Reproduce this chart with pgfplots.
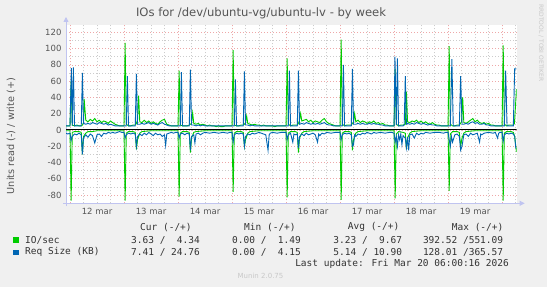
\documentclass[border=0pt]{standalone}
\usepackage{pgfplots}
\pgfplotsset{compat=1.18}
\usepackage{fontspec}
\setmainfont{DejaVu Sans}
\newfontfamily\monof{DejaVu Sans Mono}
\usetikzlibrary{arrows.meta}
\definecolor{bgc}{HTML}{F0F0F0}
\definecolor{gcol}{HTML}{00CC00}
\definecolor{bcol}{HTML}{0066B3}
\definecolor{axc}{HTML}{C0C4F0}
\definecolor{majg}{HTML}{EEA8A8}
\definecolor{ming}{HTML}{CCCCCC}
\definecolor{txt}{HTML}{555555}
\definecolor{ltxt}{HTML}{333333}
\definecolor{faint}{HTML}{C8C8C8}
\begin{document}
\begin{tikzpicture}[x=1pt,y=1pt]
\useasboundingbox (0,0) rectangle (547,287);
\fill[bgc] (0,0) rectangle (547,287);
\begin{axis}[
  at={(66pt,83.7pt)}, anchor=south west,
  scale only axis, width=450.7pt, height=178.3pt,
  xmin=-1.78, xmax=198.5, ymin=-90.2, ymax=129,
  axis background/.style={fill=white},
  axis lines*=left,
  axis line style={draw=axc, line width=0.8pt, -{Triangle[length=5pt,width=5pt]}, shorten >=-8pt, shorten <=-3pt},
  xtick={12,36,60,84,108,132,156,180},
  xticklabels={12 mar,13 mar,14 mar,15 mar,16 mar,17 mar,18 mar,19 mar},
  xmajorgrids=false,
  extra x ticks={0,24,48,72,96,120,144,168,192},
  extra x tick labels={},
  extra x tick style={xmajorgrids=true},
  minor xtick={0,6,...,198},
  xminorgrids=true,
  ytick={-80,-60,...,120},
  minor ytick={-70,-50,...,110},
  ymajorgrids=true, yminorgrids=true,
  major grid style={draw=majg, line width=0.55pt, dash pattern=on 1pt off 2pt},
  minor grid style={draw=ming, line width=0.55pt, dash pattern=on 1pt off 2pt},
  tick style={draw=none},
  /pgf/number format/assume math mode=true,
  ticklabel style={font=\fontsize{8.5}{10}\selectfont, text=txt},
  yticklabel style={xshift=-1pt},
  xticklabel style={yshift=-1pt},
  clip=true,
]
% IO/sec write (+)
\addplot[gcol, line width=0.9pt] coordinates {
(-1.78,5)(-1,5)
(0,5)(0.5,60)(1,6)(2,5)(3,6)(4,5)(5,5)(5.5,6)(6,9)(6.3,38)(7,12)(8,10)(9,13)(10,11)(11,14)(12,10)(13,12)(14,9)(15,11)(16,10)(17,8)(18,11)(19,9)(20,7)(21,6)(22,5)(23,5)
(24,5)(24.5,107)(25,7)(26,5)(27,5)(28,6)(29,6)(29.5,8)(30,12)(30.5,42)(31,10)(32,9)(33,12)(34,9)(35,11)(36,8)(37,10)(38,8)(39,7)(40,10)(41,12)(42,13)(43,7)(44,6)(45,5)(46,5)(47,5)
(48,5)(48.5,73)(49,6)(50,5)(51,5)(52,5)(53,6)(53.5,7)(54,8)(54.5,21)(55,8)(56,7)(57,8)(58,6)(59,7)(60,6)(61,5)(62,6)(63,5)(64,5)(65,4)(66,5)(67,4)(68,4)(69,5)(70,5)(71,5)
(72,5)(72.5,98)(73,6)(74,5)(75,5)(76,6)(77,6)(77.5,7)(78,9)(78.5,17)(79,8)(80,7)(81,6)(82,7)(83,6)(84,6)(85,5)(86,6)(87,5)(88,5)(89,5)(90,5)(91,4)(92,5)(93,5)(94,5)(95,5)
(96,5)(96.5,88)(97,7)(98,5)(99,6)(100,6)(101,6)(101.5,8)(102,12)(102.5,20)(103,11)(104,12)(105,13)(106,10)(107,12)(108,9)(109,11)(110,10)(111,9)(112,12)(113,14)(114,10)(115,8)(116,7)(117,6)(118,5)(119,5)
(120,5)(120.5,111)(121,7)(122,5)(123,6)(124,6)(125,6)(125.5,8)(126,10)(126.5,20)(127,10)(128,12)(129,9)(130,11)(131,10)(132,8)(133,10)(134,9)(135,11)(136,8)(137,9)(138,7)(139,8)(140,6)(141,6)(142,5)(143,5)
(144,5)(144.5,75)(145,7)(146,5)(147,6)(148,6)(149,7)(149.5,47)(150,10)(151,9)(152,11)(153,10)(154,12)(155,9)(156,11)(157,8)(158,10)(159,8)(160,7)(161,9)(162,7)(163,6)(164,6)(165,5)(166,5)(167,5)
(168,5)(168.5,103)(169,7)(170,5)(171,5)(172,6)(173,6)(173.5,8)(174,10)(174.5,40)(175,9)(176,8)(177,10)(178,12)(179,14)(180,10)(181,12)(182,9)(183,8)(184,9)(185,7)(186,8)(187,6)(188,6)(189,5)(190,5)(191,5)
(192,5)(192.5,104)(193,7)(194,5)(195,6)(196,6)(197,6)(197.5,8)(198.4,50)
};
% IO/sec read (-)
\addplot[gcol, line width=0.9pt] coordinates {
(-1.78,-1)(-1,-1)
(0,-1)(0.5,-87)(1,-3)(2,-2)(4,-2)(5,-3)(5.5,-30)(6,-8)(7,-4)(8,-2)(10,-2)(12,-1)(16,-1)(20,-1)(23,-1)
(24,-1)(24.5,-87)(25,-4)(26,-2)(28,-2)(29,-3)(29.5,-24)(30,-12)(31,-4)(32,-2)(36,-1)(40,-1)(44,-1)(47,-1)
(48,-1)(48.5,-82)(49,-4)(50,-2)(52,-2)(53,-3)(53.5,-28)(54,-10)(55,-3)(56,-2)(60,-1)(64,-1)(68,-1)(71,-1)
(72,-1)(72.5,-76)(73,-4)(74,-2)(76,-2)(77,-3)(77.5,-20)(78,-12)(79,-4)(80,-2)(84,-1)(88,-1)(92,-1)(95,-1)
(96,-1)(96.5,-83)(97,-4)(98,-2)(100,-2)(101,-3)(101.5,-28)(102,-10)(103,-4)(104,-2)(108,-1)(112,-1)(116,-1)(119,-1)
(120,-1)(120.5,-86)(121,-4)(122,-2)(124,-2)(125,-3)(125.5,-25)(126,-12)(127,-4)(128,-2)(132,-1)(136,-1)(140,-1)(143,-1)
(144,-1)(144.5,-84)(145,-5)(146,-2)(148,-3)(149,-4)(149.5,-24)(150,-10)(151,-4)(152,-2)(156,-1)(160,-1)(164,-1)(167,-1)
(168,-1)(168.5,-75)(169,-5)(170,-2)(172,-2)(173,-3)(173.6,-20)(174.2,-10)(175,-4)(176,-2)(180,-1)(184,-1)(188,-1)(191,-1)
(192,-1)(192.5,-87)(193,-4)(194,-2)(196,-2)(197,-3)(197.6,-8)(198.4,-27)
};
% Req size read (-)
\addplot[bcol, line width=0.9pt] coordinates {
(-1.78,-4)(-1,-5)
(0,-4)(0.5,-13)(1,-8)(2,-5)(3,-6)(4,-4)(5,-6)(5.5,-30)(6,-10)(7,-6)(8,-9)(9,-5)(10,-7)(11,-16)(12,-6)(13,-5)(14,-8)(15,-4)(16,-5)(17,-3)(18,-4)(19,-3)(20,-4)(21,-3)(22,-2)(23,-3)
(24,-3)(24.5,-10)(25,-6)(26,-4)(27,-5)(28,-4)(29,-5)(29.5,-20)(30,-8)(31,-5)(32,-7)(33,-4)(34,-6)(35,-3)(36,-5)(37,-7)(38,-4)(39,-6)(40,-5)(41,-8)(42,-6)(42.5,-19)(43,-5)(44,-4)(45,-3)(46,-4)(47,-3)
(48,-3)(48.5,-10)(49,-5)(50,-4)(51,-6)(52,-4)(53,-5)(53.5,-25)(54,-8)(55,-6)(55.5,-16)(56,-5)(57,-4)(58,-6)(59,-4)(60,-3)(62,-4)(64,-3)(66,-4)(68,-3)(70,-4)(71,-3)
(72,-3)(72.5,-15)(73,-6)(74,-4)(75,-5)(76,-4)(77,-5)(77.5,-20)(78,-8)(79,-5)(80,-6)(81,-4)(82,-5)(83,-4)(84,-3)(85,-4)(86,-5)(87,-6)(88,-25)(88.5,-6)(89,-4)(90,-3)(92,-4)(94,-3)(95,-3)
(96,-3)(96.5,-12)(97,-6)(98,-4)(99,-15)(99.5,-5)(100,-6)(101,-5)(101.5,-22)(102,-8)(103,-5)(104,-7)(105,-4)(106,-6)(107,-5)(108,-4)(109,-6)(110,-15)(110.5,-5)(111,-7)(112,-4)(113,-5)(114,-3)(116,-4)(118,-3)(119,-3)
(120,-3)(120.5,-12)(121,-6)(122,-4)(123,-5)(124,-4)(125,-6)(125.5,-20)(126,-18)(126.5,-6)(127,-8)(128,-5)(129,-6)(130,-4)(131,-5)(132,-3)(133,-4)(134,-5)(135,-3)(136,-4)(138,-3)(140,-4)(142,-3)(143,-3)
(144,-4)(144.5,-15)(145,-8)(145.5,-20)(146,-6)(146.5,-12)(147,-5)(147.5,-18)(148,-7)(149,-10)(149.5,-22)(150,-9)(150.5,-25)(151,-6)(152,-5)(153,-10)(154,-4)(155,-6)(156,-4)(157,-5)(158,-3)(160,-4)(162,-3)(164,-3)(166,-4)(167,-3)
(168,-3)(168.5,-12)(169,-20)(169.5,-8)(170,-15)(171,-6)(172,-5)(173,-8)(173.6,-25)(174.2,-20)(175,-6)(176,-5)(177,-8)(178,-4)(179,-6)(180,-5)(181,-4)(182,-15)(182.5,-5)(183,-6)(184,-4)(186,-3)(188,-4)(189,-3)(190,-10)(190.5,-4)(191,-3)
(192,-3)(192.5,-14)(193,-6)(194,-4)(195,-5)(196,-4)(197,-5)(197.6,-8)(198.1,-22)(198.4,-22)
};
% Req size write (+)
\addplot[bcol, line width=0.9pt] coordinates {
(-1.78,5)(-1,5)
(0,5)(0.6,76)(1,5)(1.5,77)(2,5)(3,5)(4,5)(5,5)(5.5,70)(6,8)(7,7)(8,8)(9,7)(10,9)(11,8)(12,7)(13,9)(14,8)(15,7)(16,8)(17,6)(18,7)(19,6)(20,5)(21,5)(22,5)(23,5)
(24,5)(25,5)(25.5,66)(26,5)(27,5)(28,5)(29,5)(29.5,69)(30,7)(31,7)(32,8)(33,7)(34,8)(35,9)(36,7)(37,8)(38,7)(39,6)(40,8)(41,9)(42,7)(43,6)(44,5)(45,5)(46,5)(47,5)
(48,5)(49,5)(49.5,71)(50,5)(51,5)(52,5)(53,5)(53.5,74)(54,6)(55,6)(56,5)(57,6)(58,5)(59,6)(60,5)(61,5)(63,5)(65,5)(67,5)(69,5)(71,5)
(72,5)(73,5)(73.5,62)(74,5)(75,5)(76,5)(77,5)(77.5,72)(78,6)(79,6)(80,5)(81,6)(82,5)(83,5)(85,5)(87,5)(89,5)(91,5)(93,5)(95,5)
(96,5)(97,5)(97.5,73)(98,5)(99,5)(100,5)(101,5)(101.5,73)(102,7)(103,8)(104,7)(105,9)(106,8)(107,7)(108,8)(109,7)(110,8)(111,7)(112,8)(113,9)(114,7)(115,6)(116,6)(117,5)(118,5)(119,5)
(120,5)(121,5)(121.5,80)(122,5)(123,5)(124,5)(125,5)(125.5,75)(126,7)(127,7)(128,8)(129,7)(130,8)(131,7)(132,7)(133,8)(134,7)(135,8)(136,7)(137,7)(138,6)(139,6)(140,5)(141,5)(142,5)(143,5)
(144,5)(144.4,90)(145,6)(145.5,88)(146,5)(147,5)(148,5)(148.5,6)(149,66)(149.5,7)(150,8)(151,7)(152,8)(153,7)(154,9)(155,8)(156,7)(157,8)(158,7)(159,6)(160,7)(161,6)(162,6)(163,5)(165,5)(167,5)
(168,5)(169,5)(169.7,87)(170.3,5)(171,5)(172,5)(173,5)(173.6,66)(174.2,7)(175,7)(176,8)(177,7)(178,9)(179,10)(180,8)(181,9)(182,7)(183,7)(184,8)(185,6)(186,6)(187,5)(189,5)(191,5)
(192,5)(193,5)(193.6,73)(194.2,5)(195,5)(196,5)(197,5)(197.6,75)(198.4,75)
};
% zero line
\addplot[black, line width=1.1pt] coordinates {(-1.78,0)(198.5,0)};
\end{axis}
% title
\node[font=\fontsize{11.6}{13}\selectfont, text=txt] at (261,287-13) {IOs for /dev/ubuntu-vg/ubuntu-lv - by week};
% y label
\node[rotate=90, font=\fontsize{9.7}{11}\selectfont, text=txt] at (11,287-136) {Units read (-) / write (+)};
% side text
\node[rotate=-90, anchor=west, inner sep=0pt, font=\fontsize{6}{7}\selectfont, text=faint] at (541,287-4) {RRDTOOL / TOBI OETIKER};
% legend
\begin{scope}[every node/.style={font=\monof\fontsize{9.5}{11}\selectfont, text=ltxt, inner sep=0pt}]
\node[anchor=west] at (140,287-227.3) {Cur (-/+)};
\node[anchor=west] at (244,287-227.3) {Min (-/+)};
\node[anchor=west] at (347.7,287-227.3) {Avg (-/+)};
\node[anchor=west] at (451.7,287-227.3) {Max (-/+)};
\fill[gcol] (13.3,287-242.7) rectangle (18.6,287-237.2);
\node[anchor=west] at (25,287-240) {IO/sec};
\node[anchor=east] at (200,287-240) {3.63 /\ \ 4.34};
\node[anchor=east] at (301,287-240) {0.00 /\ \ 1.49};
\node[anchor=east] at (402.3,287-240) {3.23 /\ \ 9.67};
\node[anchor=east] at (503.3,287-240) {392.52 /551.09};
\fill[bcol] (13.3,287-255) rectangle (18.6,287-249.5);
\node[anchor=west] at (25,287-252.3) {Req Size (KB)};
\node[anchor=east] at (200,287-252.3) {7.41 / 24.76};
\node[anchor=east] at (301,287-252.3) {0.00 /\ \ 4.15};
\node[anchor=east] at (402.3,287-252.3) {5.14 / 10.90};
\node[anchor=east] at (503.3,287-252.3) {128.01 /365.57};
\node[anchor=east] at (509,287-263.7) {Last update: Fri Mar 20 06:00:16 2026};
\end{scope}
\node[font=\fontsize{7}{8}\selectfont, text=faint] at (260.5,287-276) {Munin 2.0.75};
\end{tikzpicture}
\end{document}
